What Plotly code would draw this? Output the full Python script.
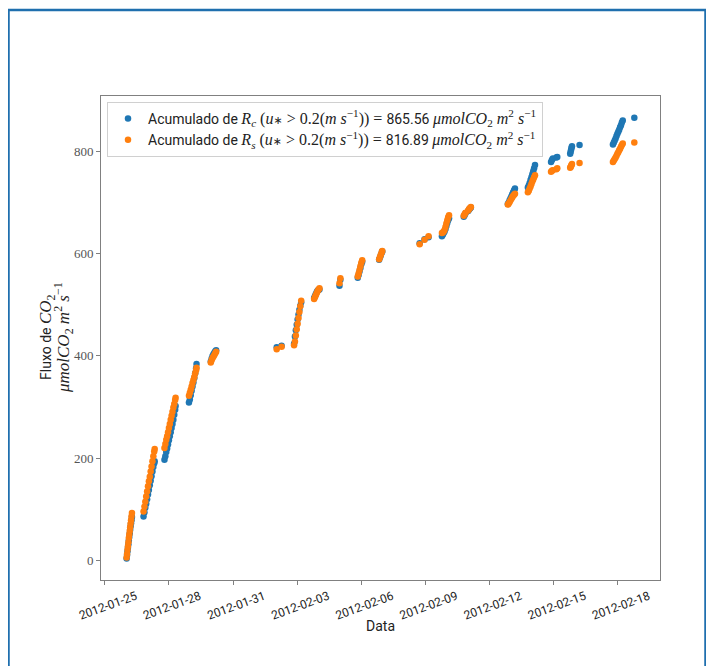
import plotly.graph_objects as go

# Timestamps (shared by both series) -- clusters of valid half-hourly records
datas = [
    # 26 Jan night
    "2012-01-26 00:30", "2012-01-26 01:00", "2012-01-26 01:30", "2012-01-26 02:00", "2012-01-26 02:30",
    "2012-01-26 03:00", "2012-01-26 03:30", "2012-01-26 04:00", "2012-01-26 04:30", "2012-01-26 05:00",
    "2012-01-26 05:30", "2012-01-26 06:00", "2012-01-26 06:30",
    # 26-27 Jan
    "2012-01-26 19:30", "2012-01-26 20:30", "2012-01-26 21:30", "2012-01-26 22:30", "2012-01-26 23:30",
    "2012-01-27 00:30", "2012-01-27 01:30", "2012-01-27 02:30", "2012-01-27 03:30", "2012-01-27 04:30",
    "2012-01-27 05:30", "2012-01-27 06:30", "2012-01-27 07:30", "2012-01-27 08:00",
    # 27-28 Jan
    "2012-01-27 19:00", "2012-01-27 20:00", "2012-01-27 21:00", "2012-01-27 22:00", "2012-01-27 23:00",
    "2012-01-28 00:00", "2012-01-28 01:00", "2012-01-28 02:00", "2012-01-28 03:00", "2012-01-28 04:00",
    "2012-01-28 05:00", "2012-01-28 06:00", "2012-01-28 07:00", "2012-01-28 07:30",
    # 28-29 Jan
    "2012-01-28 22:30", "2012-01-28 23:30", "2012-01-29 00:30", "2012-01-29 01:30", "2012-01-29 02:30",
    "2012-01-29 03:30", "2012-01-29 04:30", "2012-01-29 05:30", "2012-01-29 06:30", "2012-01-29 07:00",
    # 29-30 Jan
    "2012-01-29 23:00", "2012-01-30 00:00", "2012-01-30 01:00", "2012-01-30 02:00", "2012-01-30 03:00",
    "2012-01-30 04:00", "2012-01-30 05:00",
    # 2 Feb
    "2012-02-02 01:00", "2012-02-02 06:30",
    # 2-3 Feb
    "2012-02-02 20:30", "2012-02-02 21:30", "2012-02-02 22:30", "2012-02-02 23:30", "2012-02-03 00:30",
    "2012-02-03 01:30", "2012-02-03 02:30", "2012-02-03 03:30", "2012-02-03 04:30",
    # 3-4 Feb
    "2012-02-03 19:00", "2012-02-03 20:00", "2012-02-03 21:00", "2012-02-03 22:00", "2012-02-03 23:00",
    "2012-02-04 00:00", "2012-02-04 01:00",
    # 4-5 Feb
    "2012-02-04 23:30", "2012-02-05 00:30",
    # 5-6 Feb
    "2012-02-05 20:00", "2012-02-05 21:00", "2012-02-05 22:00", "2012-02-05 23:00", "2012-02-06 00:00",
    "2012-02-06 01:00",
    # 6 Feb
    "2012-02-06 20:00", "2012-02-06 21:00", "2012-02-06 22:00", "2012-02-06 23:00", "2012-02-06 23:30",
    # 8-9 Feb
    "2012-02-08 17:30", "2012-02-08 23:00", "2012-02-09 03:30",
    # 9-10 Feb
    "2012-02-09 18:30", "2012-02-09 19:30", "2012-02-09 20:30", "2012-02-09 21:30", "2012-02-09 22:30",
    "2012-02-09 23:30", "2012-02-10 00:30", "2012-02-10 01:30", "2012-02-10 02:30",
    # 10-11 Feb
    "2012-02-10 19:00", "2012-02-10 20:00", "2012-02-10 21:00", "2012-02-11 00:00", "2012-02-11 01:00",
    "2012-02-11 02:00", "2012-02-11 03:00",
    # 12-13 Feb
    "2012-02-12 20:30", "2012-02-12 21:30", "2012-02-12 22:30", "2012-02-12 23:30", "2012-02-13 00:30",
    "2012-02-13 01:30", "2012-02-13 02:30", "2012-02-13 03:30", "2012-02-13 04:30",
    # 13-14 Feb
    "2012-02-13 19:00", "2012-02-13 20:00", "2012-02-13 21:00", "2012-02-13 22:00", "2012-02-13 23:00",
    "2012-02-14 00:00", "2012-02-14 01:00", "2012-02-14 02:00", "2012-02-14 03:00",
    # 14-15 Feb
    "2012-02-14 21:00", "2012-02-14 22:00", "2012-02-14 23:00", "2012-02-15 03:00", "2012-02-15 04:00",
    # 15-16 Feb
    "2012-02-15 18:30", "2012-02-15 19:00", "2012-02-15 19:30", "2012-02-15 20:00", "2012-02-15 20:30",
    "2012-02-16 05:00",
    # 17-18 Feb
    "2012-02-17 18:30", "2012-02-17 19:30", "2012-02-17 20:30", "2012-02-17 21:30", "2012-02-17 22:30",
    "2012-02-17 23:30", "2012-02-18 00:30", "2012-02-18 01:30", "2012-02-18 02:30", "2012-02-18 03:30",
    "2012-02-18 04:30", "2012-02-18 05:30",
    # last
    "2012-02-18 18:30",
]

# Cumulative Rc (u* > 0.2 m/s)
rc_acum = [
    4, 11, 18, 25, 32, 39, 46, 53, 60, 67, 73, 79, 85,
    86, 94, 103, 111, 120, 129, 138, 147, 156, 165, 174, 183, 190, 194,
    197, 204, 212, 219, 227, 235, 243, 251, 259, 267, 275, 285, 295, 302,
    309, 315, 323, 332, 340, 348, 357, 366, 376, 384,
    389, 395, 400, 403, 406, 409, 411,
    417, 420,
    424, 438, 450, 461, 471, 481, 490, 498, 505,
    513, 517, 521, 525, 528, 529, 530,
    537, 549,
    553, 558, 565, 572, 579, 584,
    588, 593, 597, 602, 604,
    620, 628, 632,
    634, 637, 640, 643, 648, 654, 660, 665, 669,
    672, 675, 679, 683, 686, 688, 690,
    697, 700, 704, 708, 712, 716, 720, 724, 727,
    729, 733, 738, 744, 749, 755, 761, 767, 773,
    779, 783, 786, 788, 789,
    795, 799, 803, 807, 810, 812,
    813, 817, 821, 825, 830, 834, 838, 842, 847, 851, 856, 860,
    865.56,
]

# Cumulative Rs (u* > 0.2 m/s)
rs_acum = [
    6, 13, 21, 28, 36, 44, 51, 58, 65, 72, 79, 86, 93,
    96, 105, 115, 125, 135, 145, 155, 164, 174, 184, 194, 204, 213, 218,
    220, 228, 236, 243, 251, 259, 267, 275, 283, 291, 299, 306, 314, 318,
    322, 328, 334, 340, 347, 353, 359, 366, 372, 377,
    387, 392, 396, 399, 402, 405, 408,
    413, 418,
    421, 428, 440, 452, 463, 474, 486, 497, 508,
    511, 515, 519, 523, 527, 530, 532,
    542, 552,
    555, 561, 568, 575, 582, 587,
    589, 594, 598, 603, 605,
    618, 627, 634,
    640, 641, 643, 646, 652, 659, 665, 671, 675,
    674, 677, 680, 684, 687, 689, 691,
    696, 698, 701, 704, 707, 710, 713, 715, 717,
    720, 723, 727, 731, 736, 741, 745, 749, 753,
    760, 762, 763, 765, 767,
    768, 769, 771, 773, 775, 777,
    779, 782, 785, 788, 791, 795, 798, 802, 805, 809, 812, 815,
    816.89,
]

y_ticks = [0, 200, 400, 600, 800]
x_range = ["2012-01-24 19:45", "2012-02-19 23:20"]
y_range = [-38, 908]

SERIF = "Liberation Serif"
SANS = "Roboto"


def m(s, size=16):
    return f'<span style="font-family:{SERIF};font-size:{size}px">{s}</span>'


AST = '<span style="font-family:DejaVu Sans;font-size:11px">∗</span>'


def label(sub, total):
    return ("Acumulado de " + m(f"<i>R</i><sub><i>{sub}</i></sub> (<i>u</i>")
            + AST + m(f" &gt; 0.2(<i>m s</i><sup>−1</sup>)) = ")
            + f"{total:.2f} " + m("<i>μmolCO</i><sub>2</sub> <i>m</i><sup>2</sup> <i>s</i><sup>−1</sup>"))


fig = go.Figure()
fig.add_trace(go.Scatter(x=datas, y=rc_acum, mode="markers", name=label("c", rc_acum[-1]),
                         marker=dict(color="#1f77b4", size=6.5, line=dict(width=0))))
fig.add_trace(go.Scatter(x=datas, y=rs_acum, mode="markers", name=label("s", rs_acum[-1]),
                         marker=dict(color="#ff7f0e", size=6.5, line=dict(width=0))))

# page body adds an 8px offset; the figure is sized to fill the rest of the window
OFF = 8
W, H = 714 - OFF, 666 - OFF
L, T = 101 - OFF, 96 - OFF
pw, ph = 559, 484
R, B = W - L - pw, H - T - ph


def px(x):
    return (x - OFF - L) / pw


def py(y):
    return (T + ph - (y - OFF)) / ph


fig.update_layout(
    width=W, height=H,
    margin=dict(l=L, r=R, t=T, b=B, autoexpand=False),
    paper_bgcolor="white", plot_bgcolor="white",
    font=dict(family=SANS, size=12, color="#222"),
    showlegend=True,
    legend=dict(x=px(107), y=py(102), xanchor="left", yanchor="top",
                bgcolor="rgba(255,255,255,0.85)", bordercolor="#d0d0d0", borderwidth=1,
                font=dict(family=SANS, size=14, color="#222"), itemwidth=30),
    xaxis=dict(type="date", range=x_range, tick0="2012-01-25", dtick=3 * 86400000,
               tickformat="%Y-%m-%d", tickangle=-20, ticklabelshift=31,
               ticks="outside", ticklen=4, tickcolor="#808080",
               showline=True, linecolor="#808080", mirror=True, showgrid=False, zeroline=False,
               tickfont=dict(family=SANS, size=12, color="#222"), automargin=False),
    yaxis=dict(range=y_range, tickvals=y_ticks, ticktext=[str(v) for v in y_ticks],
               ticks="outside", ticklen=4, tickcolor="#808080",
               showline=True, linecolor="#808080", mirror=True, showgrid=False, zeroline=False,
               tickfont=dict(family=SERIF, size=13, color="#555"), automargin=False),
    shapes=[dict(type="rect", xref="paper", yref="paper",
                 x0=px(8.5), x1=px(705.5), y0=py(720), y1=py(10),
                 line=dict(color="#1f6fae", width=2.5), fillcolor="rgba(0,0,0,0)", layer="above")],
    annotations=[
        dict(text="Fluxo de " + m("<i>CO</i><sub>2</sub>", 17) + "<br>" +
                  m("<i>μmolCO</i><sub>2</sub> <i>m</i><sup>2</sup> <i>s</i><sup>−1</sup>", 17),
             xref="paper", yref="paper", x=px(56), y=0.5, xanchor="center", yanchor="middle",
             textangle=-90, showarrow=False, font=dict(family=SANS, size=14, color="#222")),
        dict(text="Data", xref="paper", yref="paper", x=0.5, y=py(626), xanchor="center",
             yanchor="middle", showarrow=False, font=dict(family=SANS, size=14, color="#222")),
    ],
)

fig.write_html("out.html")
